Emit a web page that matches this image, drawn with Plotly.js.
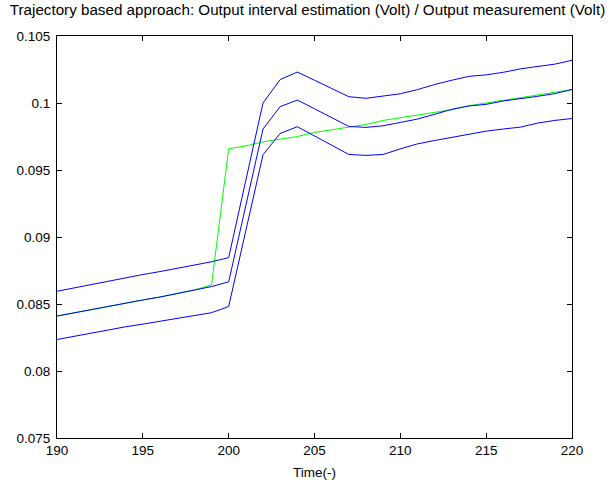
<!DOCTYPE html>
<html>
<head>
<meta charset="utf-8">
<script src="https://cdn.plot.ly/plotly-3.0.1.min.js"></script>
<style>html,body{margin:0;padding:0;background:#fff;}#chart{width:615px;height:486px;}</style>
</head>
<body>
<div id="chart"></div>
<script>
// Time samples
const time = [190,191,192,193,194,195,196,197,198,199,200,201,202,203,204,205,206,207,208,209,210,211,212,213,214,215,216,217,218,219,220];

// Upper bound of output interval estimation (Volt)
const upperBound = [0.08595,0.0862,0.08645,0.0867,0.0870,0.0872,0.08742,0.08765,0.0879,0.08815,0.08846,0.0942,0.1000,0.10175,0.10231,0.1017,0.1011,0.10047,0.10035,0.10052,0.10069,0.1010,0.10138,0.1017,0.10199,0.1021,0.10229,0.10255,0.1027,0.1029,0.10318];

// Nominal (centre) output estimation (Volt)
const nominal = [0.0841,0.08435,0.0846,0.08485,0.0851,0.0853,0.08552,0.08578,0.08605,0.0863,0.08665,0.09236,0.09806,0.09973,0.10022,0.09957,0.0989,0.09825,0.09818,0.0983,0.09855,0.0988,0.09916,0.09953,0.09978,0.0999,0.10015,0.1003,0.1005,0.1007,0.10101];

// Lower bound of output interval estimation (Volt)
const lowerBound = [0.08235,0.0826,0.0828,0.08305,0.0833,0.0835,0.0837,0.0839,0.0841,0.08435,0.08481,0.09048,0.09614,0.09773,0.09823,0.09754,0.09685,0.09616,0.09609,0.09616,0.09658,0.09695,0.0972,0.09744,0.09769,0.0979,0.09806,0.0982,0.0985,0.0987,0.09884];

// Output measurement (Volt)
const measurement = [0.0841,0.08435,0.0846,0.08485,0.0851,0.0853,0.08552,0.08578,0.08605,0.08641,0.09658,0.0968,0.0971,0.0973,0.0975,0.0978,0.0980,0.0982,0.0984,0.0987,0.0989,0.0991,0.0993,0.0995,0.0998,0.1000,0.1002,0.1004,0.1006,0.1008,0.1010];

const xTicks = [190,195,200,205,210,215,220];
const yTicks = [0.075,0.08,0.085,0.09,0.095,0.1,0.105];
const yTickText = ['0.075','0.08','0.085','0.09','0.095','0.1','0.105'];

const blue = '#0000ff';
const green = '#00ff00';

const traces = [
  {x: time, y: measurement, mode: 'lines', line: {color: green, width: 1}, name: 'measurement'},
  {x: time, y: upperBound, mode: 'lines', line: {color: blue, width: 1}, name: 'upper'},
  {x: time, y: nominal, mode: 'lines', line: {color: blue, width: 1}, name: 'nominal'},
  {x: time, y: lowerBound, mode: 'lines', line: {color: blue, width: 1}, name: 'lower'}
];

const font = {family: 'Liberation Sans, Arial, sans-serif', size: 13.5, color: '#000'};

const layout = {
  width: 615, height: 486,
  margin: {l: 57, r: 43, t: 36, b: 48},
  paper_bgcolor: '#fff', plot_bgcolor: '#fff',
  showlegend: false,
  font: font,
  title: {text: 'Trajectory based approach: Output interval estimation (Volt) / Output measurement (Volt)',
          font: {family: font.family, size: 15.2, color: '#000'},
          x: 0.5, xref: 'container', xanchor: 'center', y: 1, yref: 'container', yanchor: 'top', pad: {t: 4}},
  xaxis: {
    range: [190, 220], tickvals: xTicks, ticktext: xTicks.map(String),
    ticks: 'inside', ticklen: 5, tickwidth: 1, tickcolor: '#000',
    showline: true, linecolor: '#000', linewidth: 1, mirror: 'ticks',
    showgrid: false, zeroline: false,
    tickfont: font,
    title: {text: 'Time(-)', font: font, standoff: 10}
  },
  yaxis: {
    range: [0.075, 0.105], tickvals: yTicks, ticktext: yTickText,
    ticks: 'inside', ticklen: 5, tickwidth: 1, tickcolor: '#000',
    showline: true, linecolor: '#000', linewidth: 1, mirror: 'ticks',
    showgrid: false, zeroline: false,
    ticklabelstandoff: 3,
    tickfont: font
  }
};

Plotly.newPlot('chart', traces, layout, {displayModeBar: false, staticPlot: true});
</script>
</body>
</html>
